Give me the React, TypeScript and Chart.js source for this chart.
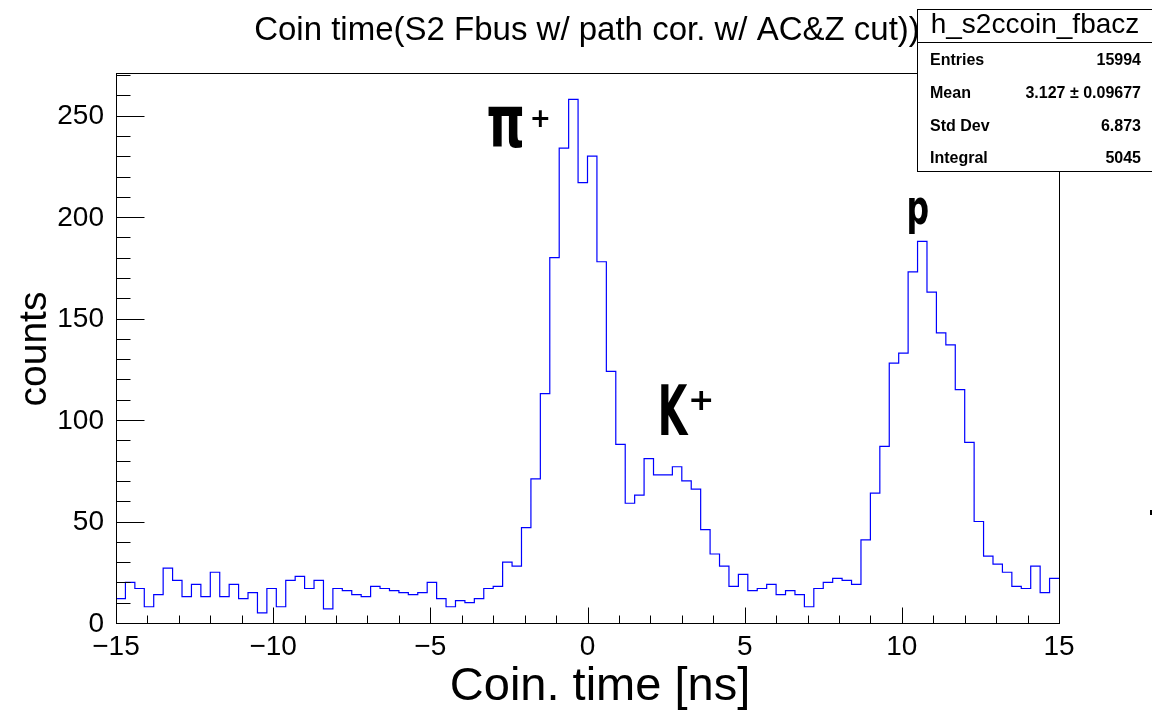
import { useEffect, useRef } from 'react';
import { Chart, registerables } from 'chart.js';

Chart.register(...registerables);

// Histogram binning: 100 bins of 0.3 ns from -15 to 15 ns
const binLow = -15;
const binWidth = 0.3;
const counts = [
  12, 20, 17, 8, 14, 27, 21, 13, 19, 13,
  25, 13, 19, 12, 15, 5, 17, 8, 21, 23,
  17, 21, 7, 17, 16, 14, 13, 18, 17, 16,
  15, 14, 15, 20, 12, 8, 11, 10, 12, 17,
  18, 30, 28, 47, 71, 113, 180, 234, 258, 217,
  230, 178, 124, 88, 59, 63, 81, 73, 73, 77,
  70, 66, 46, 34, 28, 18, 24, 16, 17, 19,
  14, 16, 14, 8, 17, 20, 22, 21, 19, 41,
  64, 87, 128, 133, 173, 188, 163, 143, 137, 115,
  89, 50, 33, 29, 25, 18, 17, 28, 15, 22,
];

const xRange = [-15, 15];
const yRange = [0, 271];
const xMajorTicks = [-15, -10, -5, 0, 5, 10, 15];
const xTickLabels = ['\u221215', '\u221210', '\u22125', '0', '5', '10', '15'];
const xMinorStep = 1;
const yMajorTicks = [0, 50, 100, 150, 200, 250];
const yTickLabels = ['0', '50', '100', '150', '200', '250'];
const yMinorStep = 10;

const histTitle = 'Coin time(S2 Fbus w/ path cor. w/ AC&Z cut))';
const xTitle = 'Coin. time [ns]';
const yTitle = 'counts';

const statsName = 'h_s2ccoin_fbacz';
const statsLabels = ['Entries', 'Mean', 'Std Dev', 'Integral'];
const statsValues = ['15994', '3.127 \u00b1 0.09677', '6.873', '5045'];

// Peak annotations: glyph, superscript, data position (ns, counts) of the glyph's top-left corner
const peakLabels = [
  { text: '\u03c0', sup: '+', x: -3.16, y: 255 },
  { text: 'K', sup: '+', x: 2.34, y: 118.5 },
  { text: 'p', sup: '', x: 10.23, y: 210 },
];

const FONT = "'Liberation Sans', Arial, Helvetica, sans-serif";

function drawFitted(
  ctx: CanvasRenderingContext2D,
  text: string,
  font: string,
  x0: number,
  y0: number,
  w: number,
  h: number,
) {
  ctx.save();
  ctx.font = font;
  ctx.textAlign = 'left';
  ctx.textBaseline = 'alphabetic';
  const m = ctx.measureText(text);
  const mw = m.actualBoundingBoxLeft + m.actualBoundingBoxRight;
  const mh = m.actualBoundingBoxAscent + m.actualBoundingBoxDescent;
  ctx.translate(x0, y0);
  ctx.scale(w / mw, h / mh);
  ctx.fillText(text, m.actualBoundingBoxLeft, m.actualBoundingBoxAscent);
  ctx.restore();
}

const rootFrame = {
  id: 'rootFrame',
  beforeDraw(chart: any) {
    const { ctx, width, height } = chart;
    ctx.save();
    ctx.fillStyle = '#ffffff';
    ctx.fillRect(0, 0, width, height);
    ctx.restore();
  },
  afterDraw(chart: any) {
    const { ctx, chartArea: a } = chart;
    const xs = chart.scales.x;
    const ys = chart.scales.y;
    const L = Math.round(a.left) + 0.5;
    const R = Math.round(a.right) + 0.5;
    const T = Math.round(a.top) + 0.5;
    const B = Math.round(a.bottom) + 0.5;

    ctx.save();
    ctx.strokeStyle = '#000';
    ctx.lineWidth = 1;
    ctx.strokeRect(L, T, R - L, B - T);

    // x ticks (pointing up into the frame)
    ctx.beginPath();
    for (let v = xRange[0]; v <= xRange[1] + 1e-9; v += xMinorStep) {
      const px = Math.round(xs.getPixelForValue(v)) + 0.5;
      const major = xMajorTicks.includes(v);
      ctx.moveTo(px, B);
      ctx.lineTo(px, B - (major ? 16 : 8));
    }
    // y ticks (pointing right into the frame)
    for (let v = yRange[0]; v <= yRange[1] + 1e-9; v += yMinorStep) {
      const py = Math.round(ys.getPixelForValue(v)) + 0.5;
      const major = yMajorTicks.includes(v);
      ctx.moveTo(L, py);
      ctx.lineTo(L + (major ? 28 : 14), py);
    }
    ctx.stroke();

    // tick labels
    ctx.fillStyle = '#000';
    ctx.font = `28px ${FONT}`;
    ctx.textAlign = 'center';
    ctx.textBaseline = 'alphabetic';
    xMajorTicks.forEach((v, i) => {
      ctx.fillText(xTickLabels[i], xs.getPixelForValue(v), 655);
    });
    ctx.textAlign = 'right';
    ctx.textBaseline = 'middle';
    yMajorTicks.forEach((v, i) => {
      ctx.fillText(yTickLabels[i], 104, ys.getPixelForValue(v) + 1);
    });

    // axis titles
    ctx.font = `47px ${FONT}`;
    ctx.textAlign = 'center';
    ctx.textBaseline = 'alphabetic';
    ctx.fillText(xTitle, 600, 700);
    ctx.save();
    ctx.translate(46, 349);
    ctx.rotate(-Math.PI / 2);
    ctx.font = `39px ${FONT}`;
    ctx.fillText(yTitle, 0, 0);
    ctx.restore();

    // peak annotations
    const bold = `bold 60px 'DejaVu Sans', ${FONT}`;
    peakLabels.forEach((p) => {
      const px = xs.getPixelForValue(p.x);
      const py = ys.getPixelForValue(p.y);
      if (p.text === '\u03c0') {
        drawFitted(ctx, p.text, bold, px, py, 34, 43);
        drawFitted(ctx, p.sup, bold, px + 44, py + 5, 16, 17);
      } else if (p.text === 'K') {
        drawFitted(ctx, p.text, bold, px, py, 28, 52);
        drawFitted(ctx, p.sup, bold, px + 30, py + 7, 20, 20);
      } else {
        drawFitted(ctx, p.text, bold, px, py, 19, 38);
      }
    });

    // histogram title
    ctx.font = `33px ${FONT}`;
    ctx.textAlign = 'center';
    ctx.textBaseline = 'alphabetic';
    ctx.fillText(histTitle, 587, 40);

    // statistics box
    ctx.fillStyle = '#fff';
    ctx.fillRect(917.5, 9.5, 260, 162);
    ctx.strokeRect(917.5, 9.5, 260, 162);
    ctx.beginPath();
    ctx.moveTo(917.5, 42.5);
    ctx.lineTo(1152, 42.5);
    ctx.stroke();
    ctx.fillStyle = '#000';
    ctx.font = `28px ${FONT}`;
    ctx.textAlign = 'center';
    ctx.fillText(statsName, 1035, 33);
    ctx.font = `bold 16px ${FONT}`;
    const baselines = [64.5, 97.5, 130.5, 163];
    statsLabels.forEach((lab, i) => {
      ctx.textAlign = 'left';
      ctx.fillText(lab, 930, baselines[i]);
      ctx.textAlign = 'right';
      ctx.fillText(statsValues[i], 1141, baselines[i]);
    });

    // small mark at the right edge
    ctx.fillRect(1150, 510, 2, 5);
    ctx.restore();
  },
};

export default function App() {
  const canvasRef = useRef<HTMLCanvasElement | null>(null);

  useEffect(() => {
    document.body.style.margin = '0';
    const canvas = canvasRef.current;
    if (!canvas) return;
    const points = counts.map((c, i) => ({ x: binLow + i * binWidth, y: c }));
    points.push({ x: binLow + counts.length * binWidth, y: counts[counts.length - 1] });

    const chart = new Chart(canvas, {
      type: 'line',
      data: {
        datasets: [
          {
            data: points,
            stepped: 'before',
            borderColor: '#0000ff',
            borderWidth: 1.2,
            pointRadius: 0,
            fill: false,
            tension: 0,
          },
        ],
      },
      options: {
        responsive: false,
        animation: false,
        devicePixelRatio: 1,
        events: [],
        layout: { padding: { left: 116, right: 93, top: 73, bottom: 87 } },
        plugins: { legend: { display: false }, tooltip: { enabled: false }, title: { display: false } },
        scales: {
          x: { type: 'linear', min: xRange[0], max: xRange[1], display: false },
          y: { type: 'linear', min: yRange[0], max: yRange[1], display: false },
        },
      },
      plugins: [rootFrame],
    });
    return () => chart.destroy();
  }, []);

  return (
    <div style={{ position: 'absolute', left: 0, top: 0, width: 1152, height: 710 }}>
      <canvas ref={canvasRef} width={1152} height={710} />
    </div>
  );
}
